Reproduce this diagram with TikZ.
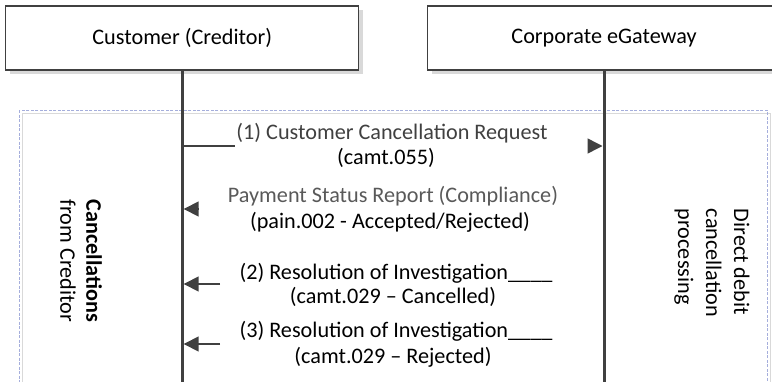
\documentclass[tikz,border=0pt]{standalone}
\usepackage{fontspec}
\setmainfont{Carlito}
\usetikzlibrary{arrows.meta,shadows}
\definecolor{ln}{HTML}{404040}
\definecolor{txtdark}{HTML}{404040}
\definecolor{txtgray}{HTML}{595959}
\definecolor{frameblue}{HTML}{A5AEDC}
\definecolor{shadowgray}{HTML}{D9D9D9}
\begin{document}
\begin{tikzpicture}[x=1pt,y=-1pt,
  actor/.style={draw=ln, line width=1.5pt, fill=white, minimum width=353pt, minimum height=64pt,
    font=\fontsize{22.2}{27}\selectfont, text=black,
    drop shadow={shadow xshift=4pt, shadow yshift=-4pt, fill=shadowgray, opacity=1}},
  lifeline/.style={ln, line width=3pt},
  msg/.style={font=\fontsize{22.2}{27}\selectfont, inner sep=0pt, text=black},
  darkmsg/.style={msg, text=txtdark},
  graymsg/.style={msg, text=txtgray},
  side/.style={font=\fontsize{22.2}{26}\selectfont, inner sep=0pt, rotate=-90},
  tip/.style={-{Triangle[length=15pt,width=15pt]}, ln, line width=1.5pt},
  plain/.style={ln, line width=1.5pt}
]
\useasboundingbox (0,0) rectangle (772,381);
\clip (0,0) rectangle (772,381);
% frame
\draw[shadowgray, line width=1pt] (22,113) rectangle (770,400);
\draw[frameblue, line width=1pt, dash pattern=on 3pt off 1.5pt] (19,110) rectangle (767,400);
% actors
\node[actor] (cust) at (182.2,38.2) {Customer (Creditor)};
\node[actor] (gw) at (604,38.2) {Corporate eGateway};
\coordinate (custend) at (182.2,400);
\coordinate (gwend) at (604,400);
\draw[lifeline] (cust.south) -- (custend);
\draw[lifeline] (gw.south) -- (gwend);
% side labels
\node[side, align=center] (lbl) at (81,261) {\textbf{Cancellations}\\from Creditor};
\node[side, align=left, font=\fontsize{22.2}{28}\selectfont] (proc) at (712,263) {Direct debit\\cancellation\\processing};
% message 1
\node[darkmsg] (m1a) at (392,133) {(1) Customer Cancellation Request};
\node[msg] (m1b) at (386,158) {(camt.055)};
\coordinate (a1s) at (182.2,146);
\coordinate (a1e) at (235,146);
\draw[plain] (a1s) -- (a1e);
\coordinate (t1s) at (588,146);
\coordinate (t1e) at (602.5,146);
\draw[tip] (t1s) -- (t1e);
% payment status
\node[graymsg] (m2a) at (393,196) {Payment Status Report (Compliance)};
\node[msg] (m2b) at (390,222) {(pain.002 - Accepted/Rejected)};
\coordinate (t2s) at (198,209);
\coordinate (t2e) at (183.7,209);
\draw[tip] (t2s) -- (t2e);
% message 2
\node[msg] (m3a) at (396,273) {(2) Resolution of Investigation\_\_\_\_};
\node[msg] (m3b) at (393,297) {(camt.029 – Cancelled)};
\coordinate (t3s) at (220,284);
\coordinate (t3e) at (183.7,284);
\draw[tip] (t3s) -- (t3e);
% message 3
\node[msg] (m4a) at (396,331) {(3) Resolution of Investigation\_\_\_\_};
\node[msg] (m4b) at (393,357) {(camt.029 – Rejected)};
\coordinate (t4s) at (220,344);
\coordinate (t4e) at (183.7,344);
\draw[tip] (t4s) -- (t4e);
\end{tikzpicture}
\end{document}
